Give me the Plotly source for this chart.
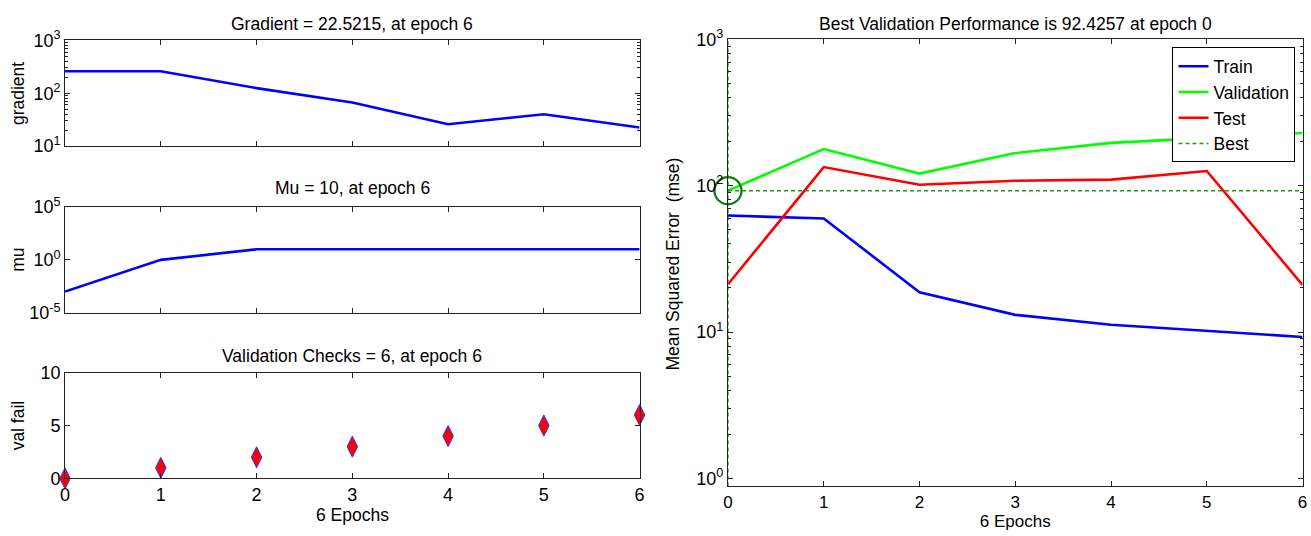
import plotly.graph_objects as go

# ---------------- data ----------------
epochs = [0, 1, 2, 3, 4, 5, 6]
gradient = [260, 260, 125, 67, 26, 40, 22.5215]
mu = [0.001, 1, 10, 10, 10, 10, 10]
val_fail = [0, 1, 2, 3, 4, 5, 6]

train_mse = [62.5, 59.7, 18.7, 13.1, 11.2, 10.2, 9.25]
valid_mse = [92.4257, 178, 121, 167, 196, 212, 229]
test_mse = [21.2, 134, 101.5, 108, 110, 126, 21.0]
best_epoch = 0
best_value = 92.4257

grad_tickvals = [10, 100, 1000]
grad_ticktext = ["10<sup>1</sup>", "10<sup>2</sup>", "10<sup>3</sup>"]
mu_tickvals = [1e-5, 1, 1e5]
mu_ticktext = ["10<sup>-5</sup>", "10<sup>0</sup>", "10<sup>5</sup>"]
vf_tickvals = [0, 5, 10]
perf_tickvals = [1, 10, 100, 1000]
perf_ticktext = ["10<sup>0</sup>", "10<sup>1</sup>", "10<sup>2</sup>", "10<sup>3</sup>"]

titles = ["Gradient = 22.5215, at epoch 6", "Mu = 10, at epoch 6",
          "Validation Checks = 6, at epoch 6",
          "Best Validation Performance is 92.4257 at epoch 0"]

# ---------------- styling ----------------
FONT = "Liberation Sans Narrow, Arial Narrow, Liberation Sans, Arial, sans-serif"
W, H = 1311, 536


# map target picture pixels to layout pixels (compensates the capture inset)
def X(p):
    return (p - 7.2) / 0.988


def Y(p):
    return (p - 10.6) / 0.961


def px_x(a, b):
    return [X(a) / W, X(b) / W]


def px_y(top, bottom):
    return [1 - Y(bottom) / H, 1 - Y(top) / H]


def minor_vals(lo, hi):
    out = []
    for d in range(lo, hi):
        for m in range(2, 10):
            out.append(m * 10 ** d)
    return out


def axis_style(size=18):
    return dict(showline=True, linecolor="#222", linewidth=1, mirror="ticks",
                ticks="inside", ticklen=5, tickcolor="#222", showgrid=False,
                zeroline=False, tickfont=dict(family=FONT, size=size, color="black"))


fig = go.Figure()

fig.add_trace(go.Scatter(x=epochs, y=gradient, mode="lines", line=dict(color="#0000ff", width=2.6),
                         xaxis="x", yaxis="y", showlegend=False))
fig.add_trace(go.Scatter(x=epochs, y=mu, mode="lines", line=dict(color="#0000ff", width=2.6),
                         xaxis="x2", yaxis="y2", showlegend=False))
fig.add_trace(go.Scatter(x=epochs, y=val_fail, mode="markers",
                         marker=dict(symbol="diamond-tall", size=15, color="#ff0000",
                                     line=dict(color="#3030ff", width=1)),
                         xaxis="x3", yaxis="y3", showlegend=False, cliponaxis=False))

fig.add_trace(go.Scatter(x=epochs, y=train_mse, mode="lines", name="Train",
                         line=dict(color="#0000ff", width=2.6), xaxis="x4", yaxis="y4"))
fig.add_trace(go.Scatter(x=epochs, y=valid_mse, mode="lines", name="Validation",
                         line=dict(color="#00ff00", width=2.6), xaxis="x4", yaxis="y4"))
fig.add_trace(go.Scatter(x=epochs, y=test_mse, mode="lines", name="Test",
                         line=dict(color="#ff0000", width=2.6), xaxis="x4", yaxis="y4"))
perf_range = [-0.055, 3]
fig.add_trace(go.Scatter(x=[epochs[0], epochs[-1], None, best_epoch, best_epoch],
                         y=[best_value, best_value, None, 10 ** perf_range[0], 10 ** perf_range[1]],
                         mode="lines", name="Best",
                         line=dict(color="#1c9e1c", width=1.4, dash="4px,3px"),
                         xaxis="x4", yaxis="y4"))
fig.add_trace(go.Scatter(x=[best_epoch], y=[best_value], mode="markers",
                         marker=dict(symbol="circle-open", size=27, color="#157a15",
                                     line=dict(width=2.2, color="#157a15")),
                         xaxis="x4", yaxis="y4", showlegend=False, cliponaxis=False))

left_x = px_x(67, 639)
right_x = px_x(727, 1299)

layout = dict(
    width=W, height=H, margin=dict(l=0, r=0, t=0, b=0), autosize=False,
    paper_bgcolor="white", plot_bgcolor="white",
    font=dict(family=FONT, size=17, color="black"),
    xaxis=dict(axis_style(), domain=left_x, anchor="y", range=[0, 6], dtick=1,
               showticklabels=False),
    yaxis=dict(axis_style(), domain=px_y(39, 145), anchor="x", type="log", range=[1, 3],
               tickmode="array", tickvals=grad_tickvals, ticktext=grad_ticktext,
               minor=dict(ticks="inside", ticklen=3, tickcolor="#222",
                          tickmode="array", tickvals=minor_vals(1, 3))),
    xaxis2=dict(axis_style(), domain=left_x, anchor="y2", range=[0, 6], dtick=1,
                showticklabels=False),
    yaxis2=dict(axis_style(), domain=px_y(206, 312), anchor="x2", type="log", range=[-5, 5],
                tickmode="array", tickvals=mu_tickvals, ticktext=mu_ticktext),
    xaxis3=dict(axis_style(), domain=left_x, anchor="y3", range=[0, 6], dtick=1),
    yaxis3=dict(axis_style(), domain=px_y(372, 478), anchor="x3", range=[0, 10],
                tickmode="array", tickvals=vf_tickvals),
    xaxis4=dict(axis_style(17), domain=right_x, anchor="y4", range=[0, 6], dtick=1,
                automargin=False,
                title=dict(text="6 Epochs", standoff=0,
                           font=dict(family=FONT, size=17, color="black"))),
    yaxis4=dict(axis_style(18), domain=px_y(38, 486), anchor="x4", type="log", range=perf_range,
                tickmode="array", tickvals=perf_tickvals, ticktext=perf_ticktext,
                minor=dict(ticks="inside", ticklen=3, tickcolor="#222",
                           tickmode="array", tickvals=minor_vals(0, 3))),
    legend=dict(x=X(1292) / W, xanchor="right", y=1 - Y(46) / H, yanchor="top",
                bgcolor="white", bordercolor="black", borderwidth=1,
                font=dict(family=FONT, size=17.5, color="black"), tracegroupgap=0),
)
fig.update_layout(**layout)

ann = []
ann.append(dict(text=titles[0], x=X(353) / W, y=1, yanchor="top"))
ann.append(dict(text=titles[1], x=X(353) / W, y=1 - Y(187) / H, yanchor="middle"))
ann.append(dict(text=titles[2], x=X(353) / W, y=1 - Y(355) / H, yanchor="middle"))
ann.append(dict(text=titles[3], x=X(1013) / W, y=1, yanchor="top"))
ann.append(dict(text="6 Epochs", x=X(353) / W, y=1 - Y(515) / H, yanchor="middle"))
for a in ann:
    a.update(xref="paper", yref="paper", showarrow=False, xanchor="center",
             font=dict(family=FONT, size=17.5, color="black"))
ylabs = [("gradient", 20, 92), ("mu", 20, 259), ("val fail", 20, 425),
         ("Mean Squared Error  (mse)", 672, 263)]
for t, x, y in ylabs:
    ann.append(dict(text=t, x=X(x) / W, y=1 - Y(y) / H, xref="paper", yref="paper",
                    showarrow=False, textangle=-90, xanchor="center", yanchor="middle",
                    font=dict(family=FONT, size=17.5, color="black")))
fig.update_layout(annotations=ann)

fig.write_html("out.html", config={"displayModeBar": False})
